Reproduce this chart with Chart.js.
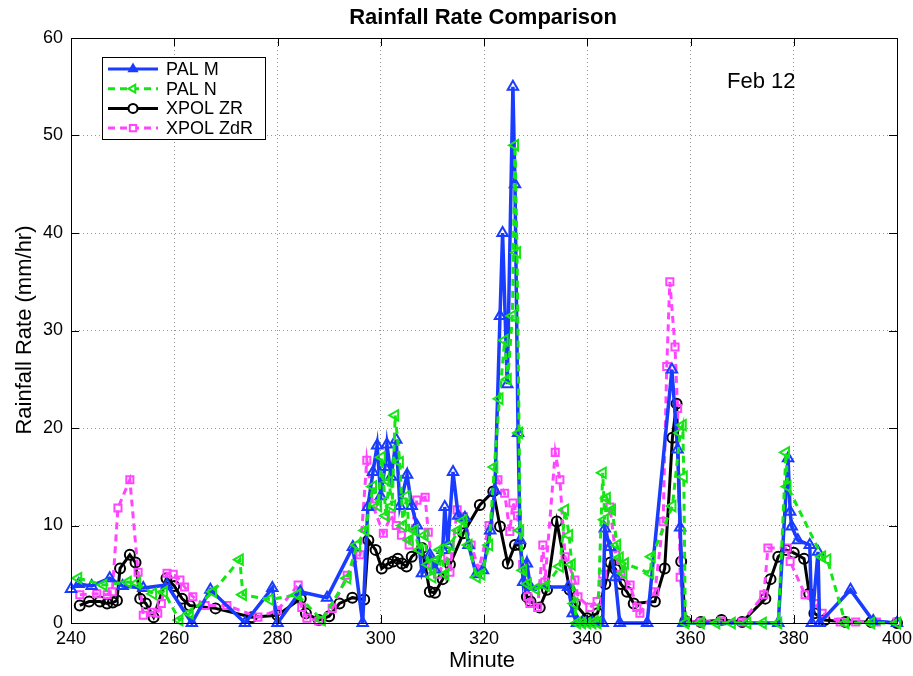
<!DOCTYPE html>
<html><head><meta charset="utf-8">
<script src="https://cdn.jsdelivr.net/npm/chart.js@4"></script>
<style>html,body{margin:0;padding:0;background:#fff}</style>
</head><body>
<canvas id="c" width="913" height="676" style="width:913px;height:676px;display:block"></canvas>
<script>
// ---- data (minute, rainfall rate mm/hr) ----
const seriesNames = ["PAL M", "PAL N", "XPOL ZR", "XPOL ZdR"];
const palM = [[240,3.5],[241.5,4.0],[244,3.8],[247.5,4.6],[250,3.8],[254,3.6],[258.6,3.9],[263.4,0],[267,3.4],[273.7,0],[279,3.6],[280,0],[284.4,3.2],[289.6,2.6],[294.6,7.8],[296.5,0],[297.5,11.9],[298.5,15.5],[299.3,18.2],[300,13],[300.8,16],[301.2,18.3],[302,15],[303,18.8],[303.7,12],[305.1,15.2],[306,12],[307,10],[308,5.1],[309.5,7],[310.5,5.5],[312,7.5],[312.4,11.9],[313,8],[314,15.5],[315,11],[316.3,10.8],[317,8],[318.5,5],[319.8,5.4],[321.2,9.5],[322.1,13.6],[323.1,31.5],[323.6,40],[324.5,24.5],[325.6,55],[326,45],[326.6,19.5],[327,8.5],[327.6,4.2],[328.3,6.1],[329,3.7],[336.3,3.7],[337.2,1],[338,0],[339,0],[340,0],[341,0],[342,0],[343,0],[343.4,9.7],[344.4,7.8],[345.4,4.7],[346.3,0],[351.6,0],[356.4,26],[357.5,17.8],[358,9.8],[358.6,0],[377,0],[378.9,16.9],[379.3,11.4],[379.6,9.9],[380.8,8.5],[383.1,8],[383.5,0],[384.7,7.3],[385,0],[391,3.4],[395.4,0.2],[400,0]];
const palN = [[241.4,4.6],[246.3,3.9],[251,4.2],[252.8,4.1],[255.9,3],[258,3.2],[261,0.3],[263,1],[267.5,3.2],[272.7,6.5],[273.3,2.9],[278.5,2.4],[283.8,2.9],[288.6,0.3],[293.5,4.6],[295.4,8],[297,9.5],[298.5,14],[299.5,12],[300.2,17],[301,11],[301.6,14.5],[302.2,12],[302.8,21.3],[303.7,16.5],[304.3,10],[305,13],[305.6,8.5],[306.5,9.5],[307.5,7.5],[308.5,9],[309.2,6],[310,4.7],[311,6.5],[311.5,7.5],[312.5,5],[313.5,8],[315,9.5],[316,10.5],[317,8],[318.6,4.7],[319.5,5],[321,8],[322,16],[323,23],[324,29],[324.6,25],[325.5,31.5],[326,49],[326.4,38],[326.8,19.5],[327,9.5],[327.6,5.4],[328.5,4],[330,3.5],[332,3.8],[334.7,5.8],[335.7,11.6],[336.5,9],[337,6],[337.5,2],[338,0],[339,0],[340,0],[341,0],[342,0],[343,15.4],[343.4,10.6],[343.8,12.8],[344.8,11.6],[345.8,8],[346.3,6.7],[347,5.1],[347.3,6.1],[352.2,5.1],[352.5,6.8],[356.5,12],[358,19.5],[358.5,20.3],[358.7,15],[359,0],[362,0],[365,0],[368,0],[371,0],[374,0],[377,0],[378.5,17.5],[378.8,14],[385.5,6.8],[386.5,6.5],[390,0],[395,0],[400,0]];
const xpolZR = [[241.7,1.8],[243.5,2.2],[245.6,2.2],[247,2],[248.1,2.1],[248.9,2.3],[249.5,5.6],[251.4,7],[252.5,6.2],[253.4,2.5],[254.5,2],[256,0.6],[258.5,4.6],[260,3.8],[261.5,2.5],[263,1.8],[268,1.5],[275,0.6],[280,0.8],[284.5,2.5],[285.5,1],[288,0.3],[290,0.7],[292,2],[294.5,2.6],[296.8,2.4],[297.6,8.5],[299,7.5],[300.2,5.6],[301.4,6.1],[302.4,6.3],[303.3,6.6],[304.1,6.1],[305,5.8],[306,6.8],[308,7.7],[309.5,3.2],[310.5,3.1],[312,4.5],[313.4,6],[316,9.2],[319.2,12.1],[321.8,13.5],[323.1,9.9],[324.6,6.1],[326,8],[327,8],[328.3,2.7],[329,2.2],[330.8,1.6],[332.2,3.4],[334.1,10.4],[336.6,3.4],[337.6,2],[340,0.5],[342,1],[343.5,4],[344.5,6.2],[345.5,5.5],[346.5,4],[347.7,3.2],[349,2],[353.1,2.2],[355,5.6],[356.5,19],[357.3,22.5],[358.2,6.3],[359,0.2],[362,0.1],[366,0.3],[370,0.1],[374.5,2.5],[375.5,4.5],[377,6.8],[378.5,7.5],[380,7.2],[382,6.6],[383,3],[384,1],[386,0.3],[390,0.1],[395,0.1],[400,0]];
const xpolZdR = [[241.7,2.9],[245,3],[247,2.9],[248,3.2],[249.1,11.8],[251.4,14.7],[253,5.2],[254,0.8],[255.7,1.1],[256.8,1],[257.5,2],[258.6,5.1],[259.8,5],[261.1,4.4],[262,3.7],[263.6,2.7],[266,1.8],[270.2,1.8],[276.2,0.6],[280,1.3],[284,3.9],[284.7,1.6],[285.7,0.5],[288,0.2],[290.6,1.5],[293.5,4.9],[296,7],[297.3,16.7],[298.5,12],[300.5,9.2],[302,11],[303,10],[304,9],[305.5,8],[307,12.6],[308.6,12.9],[309.2,9.3],[310,6],[311,5],[313,6.8],[313.4,5.2],[314.8,11.6],[316,10.9],[317.5,8],[319,5.5],[321,10],[322.7,14.7],[324,13.3],[325,9.4],[325.6,12.3],[326.5,11],[327.5,6],[328.5,2.7],[328.9,2],[330.4,1.6],[331.4,8],[331.8,4.2],[333.8,17.5],[334.7,14.7],[335.7,6.8],[337.6,4.4],[338.2,2.7],[340.5,1.6],[341.9,2.2],[343,5],[344.4,11.9],[345.5,7],[346.5,5],[348.3,3.9],[349.6,1.6],[350.2,1],[353.1,3.2],[354.7,10.4],[355.4,26.3],[356,35],[357,28.3],[357.5,22],[358,4.7],[359,0.2],[362,0.1],[366,0.2],[370,0.1],[374.2,2.9],[375,7.7],[378.7,7.7],[379.3,6.3],[382.2,2.9],[384.1,2],[385.5,1],[389,0.1],[392,0.1],[396,0.1],[400,0.1]];
const xTicks = [240, 260, 280, 300, 320, 340, 360, 380, 400];
const yTicks = [0, 10, 20, 30, 40, 50, 60];
const titleText = "Rainfall Rate Comparison";
const xLabel = "Minute";
const yLabel = "Rainfall Rate (mm/hr)";
const noteText = "Feb 12";

const FONT = "'Liberation Sans', Arial, sans-serif";
const toXY = a => a.map(p => ({x: p[0], y: p[1]}));

const styles = [
  {color: '#1a3cff', dash: [], marker: 'triangle', rot: 0, order: 2, legendFill: '#1a3cff'},
  {color: '#14e614', dash: [7, 5], marker: 'triangle', rot: -90, order: 1, legendFill: '#ffffff'},
  {color: '#000000', dash: [], marker: 'circle', rot: 0, order: 4, legendFill: '#ffffff'},
  {color: '#ff45ff', dash: [7, 5], marker: 'rect', rot: 0, order: 3, legendFill: '#ffffff'}
];
const allData = [palM, palN, xpolZR, xpolZdR];

const datasets = allData.map((d, i) => ({
  label: seriesNames[i],
  data: toXY(d),
  borderColor: styles[i].color,
  borderWidth: i === 0 ? 3.5 : 3,
  borderDash: styles[i].dash,
  pointStyle: styles[i].marker,
  pointRotation: styles[i].rot,
  pointRadius: styles[i].marker === 'rect' ? 5 : (styles[i].marker === 'circle' ? 5 : 6),
  pointBorderWidth: 2,
  pointBorderColor: styles[i].color,
  pointBackgroundColor: 'rgba(255,255,255,0)',
  tension: 0,
  fill: false,
  clip: 12,
  order: styles[i].order
}));

const decor = {
  id: 'decor',
  afterDraw(chart) {
    const ctx = chart.ctx, a = chart.chartArea;
    const xs = chart.scales.x, ys = chart.scales.y;
    ctx.save();
    // box
    ctx.strokeStyle = '#000'; ctx.lineWidth = 1; ctx.setLineDash([]);
    ctx.strokeRect(a.left + 0.5, a.top + 0.5, a.right - a.left, a.bottom - a.top);
    // inward ticks
    ctx.beginPath();
    xTicks.forEach(v => {
      const px = Math.round(xs.getPixelForValue(v)) + 0.5;
      ctx.moveTo(px, a.bottom); ctx.lineTo(px, a.bottom - 8);
      ctx.moveTo(px, a.top); ctx.lineTo(px, a.top + 8);
    });
    yTicks.forEach(v => {
      const py = Math.round(ys.getPixelForValue(v)) + 0.5;
      ctx.moveTo(a.left, py); ctx.lineTo(a.left + 8, py);
      ctx.moveTo(a.right, py); ctx.lineTo(a.right - 8, py);
    });
    ctx.stroke();
    // title
    ctx.fillStyle = '#000';
    ctx.textAlign = 'center'; ctx.textBaseline = 'middle';
    ctx.font = 'bold 22px ' + FONT;
    ctx.fillText(titleText, 483, 18);
    ctx.font = '22px ' + FONT;
    ctx.fillText(xLabel, 482, 661);
    ctx.save();
    ctx.translate(25, 330);
    ctx.rotate(-Math.PI / 2);
    ctx.fillText(yLabel, 0, 0);
    ctx.restore();
    // note
    ctx.textAlign = 'left';
    ctx.font = '22px ' + FONT;
    ctx.fillText(noteText, 727, 82);
    // legend
    const lx = 102, ly = 57, lw = 163, lh = 82;
    ctx.fillStyle = '#fff';
    ctx.fillRect(lx, ly, lw, lh);
    ctx.strokeStyle = '#000'; ctx.lineWidth = 1;
    ctx.strokeRect(lx + 0.5, ly + 0.5, lw, lh);
    ctx.font = '18px ' + FONT;
    datasets.forEach((ds, i) => {
      const cy = 69 + i * 19.7;
      ctx.strokeStyle = ds.borderColor; ctx.lineWidth = 3;
      ctx.setLineDash(ds.borderDash);
      ctx.beginPath(); ctx.moveTo(108, cy); ctx.lineTo(158, cy); ctx.stroke();
      ctx.setLineDash([]);
      ctx.lineWidth = 2;
      ctx.fillStyle = styles[i].legendFill;
      Chart.helpers.drawPoint(ctx, {pointStyle: ds.pointStyle, rotation: ds.pointRotation, radius: 4.5, borderWidth: 2}, 133, cy);
      ctx.fillStyle = '#000';
      ctx.textBaseline = 'middle';
      ctx.fillText(ds.label, 166, cy + 1);
    });
    ctx.restore();
  }
};

new Chart(document.getElementById('c'), {
  type: 'line',
  data: {datasets},
  options: {
    responsive: false,
    animation: false,
    devicePixelRatio: 1,
    layout: {padding: {left: 0, top: 38, right: 16, bottom: 0}},
    plugins: {legend: {display: false}, title: {display: false}, tooltip: {enabled: false}},
    scales: {
      x: {
        type: 'linear', min: 240, max: 400,
        afterBuildTicks: s => { s.ticks = xTicks.map(v => ({value: v})); },
        afterFit: s => { s.height = 53; s.paddingLeft = 0; s.paddingRight = 0; },
        ticks: {color: '#000', font: {family: FONT, size: 18}, padding: 5, maxRotation: 0},
        grid: {color: 'rgba(0,0,0,0.42)', lineWidth: 1, drawTicks: false},
        border: {display: false, dash: [1, 3]}
      },
      y: {
        type: 'linear', min: 0, max: 60,
        afterBuildTicks: s => { s.ticks = yTicks.map(v => ({value: v})); },
        afterFit: s => { s.width = 71; s.paddingTop = 0; s.paddingBottom = 0; },
        ticks: {color: '#000', font: {family: FONT, size: 18}, padding: 8},
        grid: {color: 'rgba(0,0,0,0.42)', lineWidth: 1, drawTicks: false},
        border: {display: false, dash: [1, 3]}
      }
    }
  },
  plugins: [decor]
});
</script>
</body></html>
